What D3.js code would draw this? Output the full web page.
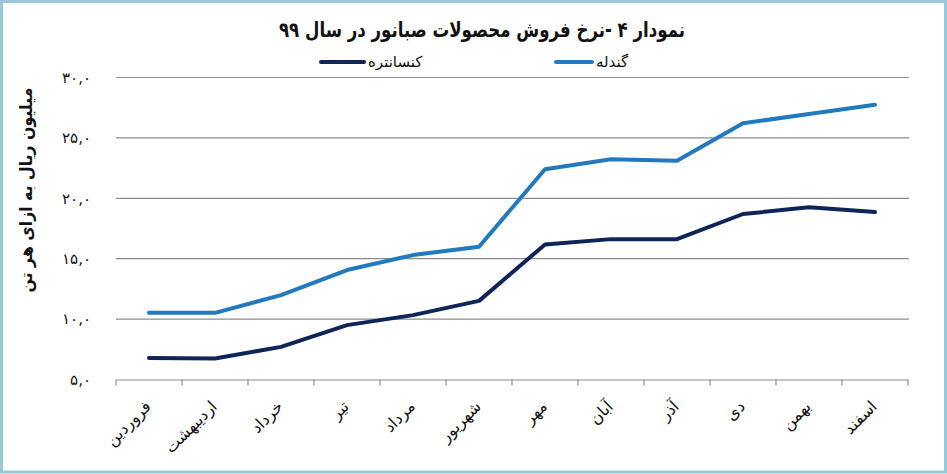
<!DOCTYPE html>
<html><head><meta charset="utf-8">
<script src="https://cdn.jsdelivr.net/npm/d3@7"></script>
<style>
html,body{margin:0;padding:0;background:#fff;}
svg{display:block;font-family:"DejaVu Sans","Noto Sans",sans-serif;}
</style></head>
<body>
<script>
const months = ["فروردین","اردیبهشت","خرداد","تیر","مرداد","شهریور","مهر","آبان","آذر","دی","بهمن","اسفند"];
const concentrate = [6.79,6.74,7.7,9.5,10.33,11.51,16.18,16.62,16.62,18.7,19.25,18.86];
const pellet = [10.52,10.52,11.98,14.06,15.3,15.99,22.4,23.23,23.11,26.21,26.98,27.75];
const yTicks = [5,10,15,20,25,30];
const seriesNames = ["کنسانتره","گندله"];
const titleText = "نمودار ۴ -نرخ فروش محصولات صبانور در سال ۹۹";
const yTitle = "میلیون ریال به ازای هر تن";

const W=947,H=474;
const colDark="#0f2557", colLight="#2379bd";
const fa = s => String(s).replace(/\d/g,d=>"۰۱۲۳۴۵۶۷۸۹"[d]);
const svg=d3.select("body").append("svg").attr("width",W).attr("height",H);
svg.append("rect").attr("x",1.5).attr("y",1.5).attr("width",W-3).attr("height",H-3.5)
  .attr("fill","#fff").attr("stroke","#95c9da").attr("stroke-width",3);

const x=d3.scaleBand().domain(months).range([116,908]);
const y=d3.scaleLinear().domain([5,30]).range([379.5,77.5]);

// gridlines
svg.append("g").selectAll("line").data(yTicks.filter(t=>t>5)).join("line")
  .attr("x1",116).attr("x2",909).attr("y1",d=>y(d)).attr("y2",d=>y(d))
  .attr("stroke","#8d8d8d").attr("stroke-width",1.2);

// x axis
const xAxis=d3.axisBottom(x).tickSize(0).tickFormat("");
const gx=svg.append("g").attr("transform",`translate(0,${y(5)})`).call(xAxis);
gx.select(".domain").attr("stroke","#8d8d8d").attr("stroke-width",1.2);
const bounds=months.map(m=>x(m)).concat([x.range()[1]]);
gx.selectAll(".btick").data(bounds).join("line").attr("class","btick")
  .attr("x1",d=>d).attr("x2",d=>d).attr("y1",0).attr("y2",6)
  .attr("stroke","#8d8d8d").attr("stroke-width",1.2);
svg.append("g").selectAll("text").data(months).join("text")
  .attr("transform",d=>`translate(${x(d)+x.bandwidth()/2+3},${y(5)+28}) rotate(-45)`)
  .attr("text-anchor","end").attr("font-size",16).attr("fill","#111").text(d=>d);

// y axis labels
const yAxis=d3.axisLeft(y).tickValues(yTicks).tickSize(0).tickFormat(d=>fa(d)+",۰");
const gy=svg.append("g").attr("transform","translate(94,0)").call(yAxis);
gy.select(".domain").remove();
gy.selectAll("text").attr("font-size",15).attr("fill","#111").attr("font-family","DejaVu Sans");

// lines
const line=d3.line().x((d,i)=>x(months[i])+x.bandwidth()/2).y(d=>y(d));
[[pellet,colLight],[concentrate,colDark]].forEach(([s,c])=>{
  svg.append("path").datum(s).attr("d",line).attr("fill","none").attr("stroke",c)
    .attr("stroke-width",4).attr("stroke-linejoin","round").attr("stroke-linecap","round");
});

// legend
const leg=[{n:seriesNames[0],c:colDark,x1:321,x2:364,tx:368},{n:seriesNames[1],c:colLight,x1:556,x2:592,tx:596}];
leg.forEach(l=>{
  svg.append("line").attr("x1",l.x1).attr("x2",l.x2).attr("y1",62).attr("y2",62)
    .attr("stroke",l.c).attr("stroke-width",4).attr("stroke-linecap","round");
  svg.append("text").attr("x",l.tx).attr("y",67).attr("font-size",15).attr("fill","#111").text(l.n);
});

// title
svg.append("text").attr("x",482).attr("y",37).attr("text-anchor","middle")
  .attr("font-size",21).attr("font-weight","bold").attr("fill","#111")
  .attr("textLength",406).attr("lengthAdjust","spacingAndGlyphs").text(titleText);

// y title
svg.append("text").attr("transform","translate(32,190) rotate(-90)").attr("text-anchor","middle")
  .attr("font-size",17).attr("font-weight","bold").attr("fill","#111")
  .attr("textLength",205).attr("lengthAdjust","spacingAndGlyphs").text(yTitle);
</script>
</body></html>
